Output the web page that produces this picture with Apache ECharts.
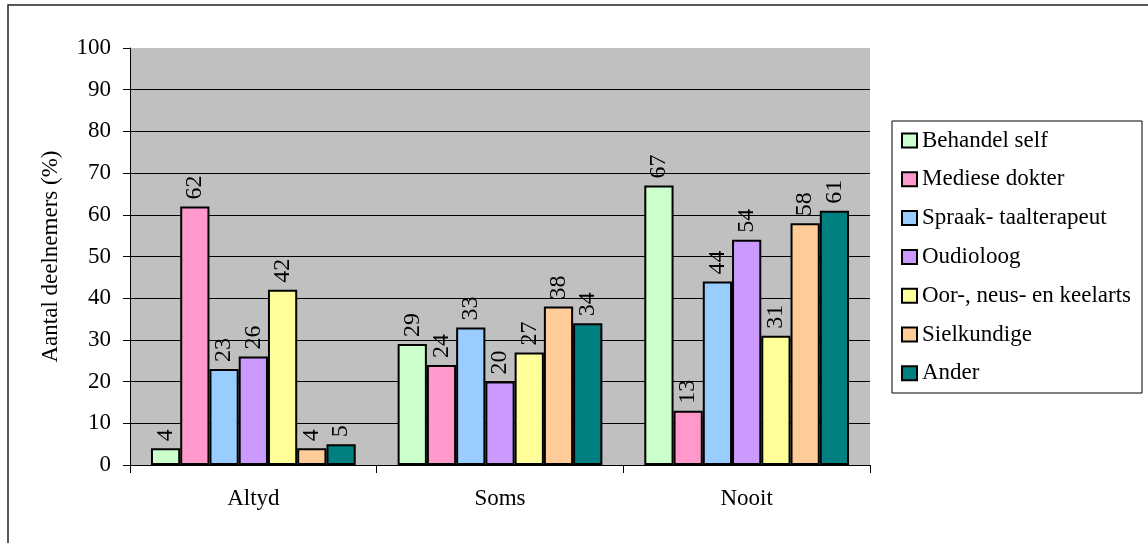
<!DOCTYPE html>
<html>
<head>
<meta charset="utf-8">
<script src="https://cdn.jsdelivr.net/npm/echarts@6/dist/echarts.min.js"></script>
<style>
  html, body { margin: 0; padding: 0; background: #fff; }
  #chart { width: 1148px; height: 543px; }
</style>
</head>
<body>
<div id="chart"></div>
<script>
// Categories on the x axis
const categories = ['Altyd', 'Soms', 'Nooit'];

// Percentage of participants per treatment type
const behandelSelf = [4, 29, 67];
const medieseDokter = [62, 24, 13];
const spraakTaalterapeut = [23, 33, 44];
const oudioloog = [26, 20, 54];
const oorNeusKeelarts = [42, 27, 31];
const sielkundige = [4, 38, 58];
const ander = [5, 34, 61];

const seriesDefs = [
  { name: 'Behandel self', data: behandelSelf, color: '#CCFFCC' },
  { name: 'Mediese dokter', data: medieseDokter, color: '#FF99CC' },
  { name: 'Spraak- taalterapeut', data: spraakTaalterapeut, color: '#99CCFF' },
  { name: 'Oudioloog', data: oudioloog, color: '#CC99FF' },
  { name: 'Oor-, neus- en keelarts', data: oorNeusKeelarts, color: '#FFFF99' },
  { name: 'Sielkundige', data: sielkundige, color: '#FFCC99' },
  { name: 'Ander', data: ander, color: '#008080' }
];

const FONT = '"Liberation Serif", "Times New Roman", serif';

const chart = echarts.init(document.getElementById('chart'), null, { renderer: 'canvas' });

chart.setOption({
  backgroundColor: '#ffffff',
  animation: false,
  textStyle: { fontFamily: FONT, color: '#000' },
  graphic: [
    {
      type: 'rect',
      shape: { x: 8, y: 5, width: 1160, height: 560 },
      style: { fill: 'none', stroke: '#222', lineWidth: 1.5 },
      silent: true
    },
    {
      type: 'rect',
      shape: { x: 892, y: 121, width: 250, height: 272 },
      style: { fill: 'none', stroke: '#000', lineWidth: 1 },
      silent: true
    }
  ],
  grid: {
    left: 130, top: 48, width: 740, height: 417,
    show: true, backgroundColor: '#C0C0C0', borderWidth: 0
  },
  legend: {
    orient: 'vertical',
    left: 892, top: 121,
    padding: [8, 9, 10, 9],
    itemWidth: 15, itemHeight: 14,
    itemGap: 15.8,
    icon: 'rect',
    textStyle: { fontFamily: FONT, fontSize: 23, lineHeight: 23, color: '#000' }
  },
  xAxis: {
    type: 'category',
    data: categories,
    axisLine: { lineStyle: { color: '#000', width: 1 } },
    axisTick: { show: true, length: 8, lineStyle: { color: '#000' } },
    axisLabel: { fontFamily: FONT, fontSize: 23, color: '#000', margin: 22 },
    splitLine: { show: false }
  },
  yAxis: {
    type: 'value',
    min: 0, max: 100, interval: 10,
    name: 'Aantal deelnemers (%)',
    nameLocation: 'middle',
    nameGap: 68,
    nameTextStyle: { fontFamily: FONT, fontSize: 23, color: '#000' },
    axisLine: { show: true, lineStyle: { color: '#000', width: 1 } },
    axisTick: { show: true, length: 7, lineStyle: { color: '#000' } },
    axisLabel: { fontFamily: FONT, fontSize: 23, color: '#000', margin: 19 },
    splitLine: { show: true, showMaxLine: false, lineStyle: { color: '#000', width: 1 } }
  },
  series: seriesDefs.map(s => ({
    type: 'bar',
    name: s.name,
    data: s.data,
    barGap: '0%',
    barCategoryGap: '17%',
    itemStyle: { color: s.color, borderColor: '#000', borderWidth: 2 },
    label: {
      show: true,
      position: 'top',
      rotate: 90,
      align: 'left',
      verticalAlign: 'middle',
      distance: 7,
      fontFamily: FONT,
      fontSize: 24,
      color: '#000'
    }
  }))
});
</script>
</body>
</html>
